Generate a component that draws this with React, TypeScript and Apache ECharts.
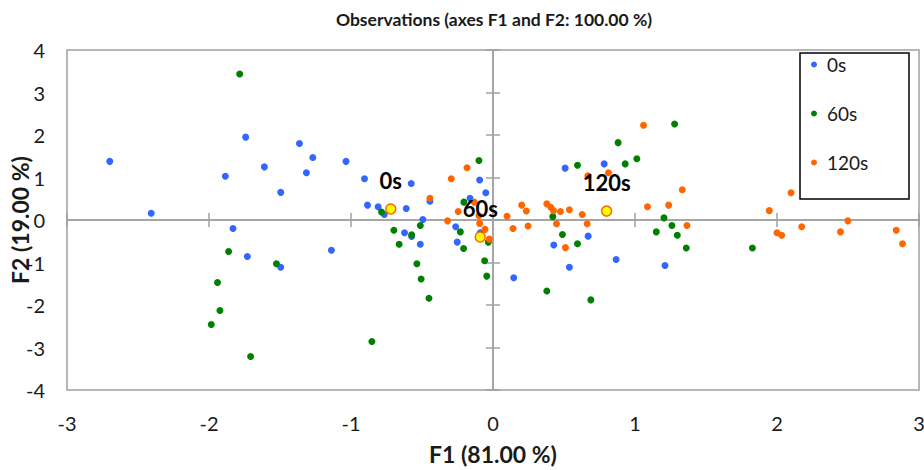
import React, { useEffect, useRef } from "react";
import * as echarts from "echarts";

// ---- data ----
const seriesNames = ["0s", "60s", "120s"];

const obs0s: [number, number][] = [
  [-2.699, 1.38], [-2.407, 0.16], [-1.885, 1.03], [-1.742, 1.95], [-1.61, 1.25],
  [-1.495, 0.65], [-1.363, 1.8], [-1.314, 1.11], [-1.269, 1.47], [-1.035, 1.38],
  [-1.831, -0.2], [-1.73, -0.86], [-1.495, -1.11], [-1.138, -0.71], [-0.905, 0.97],
  [-0.576, 0.86], [-0.884, 0.35], [-0.809, 0.31], [-0.766, 0.13], [-0.611, 0.27],
  [-0.444, 0.44], [-0.494, 0.01], [-0.623, -0.3], [-0.573, -0.39], [-0.512, -0.57],
  [-0.094, 0.94], [-0.051, 0.64], [-0.162, 0.51], [-0.263, -0.16], [-0.252, -0.52],
  [-0.09, -0.3], [0.146, -1.36], [0.508, 1.22], [0.783, 1.32], [0.428, -0.59],
  [0.67, -0.38], [0.538, -1.11], [0.867, -0.93], [1.211, -1.07],
];

const obs60s: [number, number][] = [
  [-1.784, 3.435], [-1.862, -0.74], [-1.525, -1.03], [-1.94, -1.47], [-1.923, -2.13],
  [-1.984, -2.46], [-1.707, -3.21], [-0.853, -2.86], [-0.785, 0.19], [-0.698, -0.24],
  [-0.573, -0.35], [-0.512, -0.13], [-0.661, -0.57], [-0.536, -1.03], [-0.506, -1.39],
  [-0.451, -1.84], [-0.205, 0.42], [-0.23, -0.28], [-0.207, -0.67], [-0.099, 1.4],
  [-0.033, -0.52], [-0.059, -0.96], [-0.044, -1.32], [0.421, 0.08], [0.489, -0.34],
  [0.595, -0.56], [0.379, -1.67], [0.689, -1.88], [0.595, 1.29], [0.881, 1.82],
  [0.931, 1.32], [1.013, 1.44], [1.279, 2.26], [1.204, 0.05], [1.26, -0.13],
  [1.15, -0.28], [1.298, -0.36], [1.361, -0.66], [1.827, -0.66],
];

const obs120s: [number, number][] = [
  [-0.444, 0.51], [-0.294, 0.97], [-0.183, 1.23], [-0.132, 0.42], [-0.245, 0.2],
  [-0.32, -0.02], [-0.099, 0.1], [-0.094, -0.08], [-0.056, -0.22], [-0.026, -0.45],
  [0.099, 0.09], [0.141, -0.2], [0.247, -0.14], [0.202, 0.35], [0.235, 0.21],
  [0.379, 0.38], [0.407, 0.3], [0.426, 0.22], [0.475, 0.2], [0.538, 0.24],
  [0.447, -0.09], [0.628, 0.13], [0.663, -0.09], [0.51, -0.65], [0.668, 1.04],
  [0.813, 1.11], [1.06, 2.23], [1.333, 0.71], [1.088, 0.31], [1.237, 0.35],
  [1.366, -0.13], [1.946, 0.22], [2.099, 0.64], [2.0, -0.3], [2.033, -0.36],
  [2.174, -0.16], [2.447, -0.28], [2.499, -0.02], [2.84, -0.24], [2.884, -0.56],
];

const centroidLabels = ["0s", "60s", "120s"];
const centroids: [number, number][] = [
  [-0.72, 0.26],
  [-0.09, -0.4],
  [0.8, 0.21],
];

const X_MIN = -3;
const X_MAX = 3;
const Y_MIN = -4;
const Y_MAX = 4;
const TICK_STEP = 1;

const titleText = "Observations (axes F1 and F2: 100.00 %)";
const xName = "F1 (81.00 %)";
const yName = "F2 (19.00 %)";

// ---- styles ----
const FONT = "Lato, 'Liberation Sans', Arial, sans-serif";
const colors = ["#3366FF", "#008000", "#FF6600"];
const axisGray = "#a0a0a0";
const textColor = "#1a1a1a";

function centralX(inside: boolean) {
  return {
    type: "value",
    min: X_MIN,
    max: X_MAX,
    interval: TICK_STEP,
    position: "bottom",
    axisLine: { show: true, onZero: true, onZeroAxisIndex: 0, lineStyle: { color: axisGray, width: 1.5 } },
    axisTick: { show: true, inside, length: 7, lineStyle: { color: axisGray, width: 1.5 } },
    axisLabel: { show: false },
    splitLine: { show: false },
  };
}

function centralY(inside: boolean) {
  return {
    type: "value",
    min: Y_MIN,
    max: Y_MAX,
    interval: TICK_STEP,
    position: "left",
    axisLine: { show: true, onZero: true, onZeroAxisIndex: 0, lineStyle: { color: axisGray, width: 1.5 } },
    axisTick: { show: true, inside, length: 7, lineStyle: { color: axisGray, width: 1.5 } },
    axisLabel: { show: false },
    splitLine: { show: false },
  };
}

export default function App() {
  const ref = useRef<HTMLDivElement>(null);

  useEffect(() => {
    if (!ref.current) return;
    const chart = echarts.init(ref.current, undefined, { renderer: "svg" });
    const obs = [obs0s, obs60s, obs120s];

    chart.setOption({
      animation: false,
      backgroundColor: "#ffffff",
      title: {
        text: titleText,
        left: 494,
        top: 10,
        padding: 0,
        textAlign: "center",
        textStyle: { fontFamily: FONT, fontSize: 17.5, fontWeight: "bold", color: textColor },
      },
      grid: {
        left: 67,
        right: 5,
        top: 50,
        bottom: 80,
        show: true,
        borderColor: axisGray,
        borderWidth: 1.5,
        containLabel: false,
        outerBoundsMode: "none",
      },
      legend: {
        data: seriesNames,
        orient: "vertical",
        left: 811,
        top: 55,
        padding: 0,
        itemWidth: 16,
        itemHeight: 6,
        itemGap: 30,
        icon: "circle",
        textStyle: { fontFamily: FONT, fontSize: 19, color: textColor },
      },
      graphic: [
        {
          type: "rect",
          shape: { x: 800, y: 53, width: 109, height: 146 },
          style: { fill: "rgba(0,0,0,0)", stroke: "#000", lineWidth: 1.5 },
          z: 10,
        },
      ],
      xAxis: [
        {
          type: "value",
          min: X_MIN,
          max: X_MAX,
          interval: TICK_STEP,
          position: "bottom",
          name: xName,
          nameLocation: "middle",
          nameGap: 52,
          nameMoveOverlap: false,
          nameTextStyle: { fontFamily: FONT, fontSize: 23, fontWeight: "bold", color: textColor },
          axisLine: { show: false, onZero: false },
          axisTick: { show: false },
          splitLine: { show: false },
          axisLabel: { margin: 23, fontFamily: FONT, fontSize: 20, color: textColor },
        },
        centralX(true),
        centralX(false),
      ],
      yAxis: [
        {
          type: "value",
          min: Y_MIN,
          max: Y_MAX,
          interval: TICK_STEP,
          position: "left",
          name: yName,
          nameLocation: "middle",
          nameGap: 36,
          nameMoveOverlap: false,
          nameTextStyle: { fontFamily: FONT, fontSize: 23, fontWeight: "bold", color: textColor },
          axisLine: { show: false, onZero: false },
          axisTick: { show: false },
          splitLine: { show: false },
          axisLabel: { margin: 22, fontFamily: FONT, fontSize: 20, color: textColor },
        },
        centralY(true),
        centralY(false),
      ],
      series: [
        ...seriesNames.map((n, i) => ({
          name: n,
          type: "scatter",
          xAxisIndex: 0,
          yAxisIndex: 0,
          data: obs[i],
          symbol: "circle",
          symbolSize: 7,
          itemStyle: { color: colors[i], opacity: 1 },
          z: 3,
        })),
        {
          name: "Centroids",
          type: "scatter",
          xAxisIndex: 0,
          yAxisIndex: 0,
          symbol: "circle",
          symbolSize: 10,
          data: centroids.map((c, i) => ({ value: c, label: { formatter: centroidLabels[i] } })),
          itemStyle: { color: "#FFFF00", borderColor: "#FF6600", borderWidth: 1.5, opacity: 1 },
          label: {
            show: true,
            position: "top",
            distance: 12,
            fontFamily: FONT,
            fontSize: 22,
            fontWeight: "bold",
            color: "#000",
          },
          z: 5,
        },
      ],
    });

    return () => chart.dispose();
  }, []);

  return (
    <div
      ref={ref}
      style={{ position: "absolute", left: 0, top: 0, width: 924, height: 470 }}
    />
  );
}
